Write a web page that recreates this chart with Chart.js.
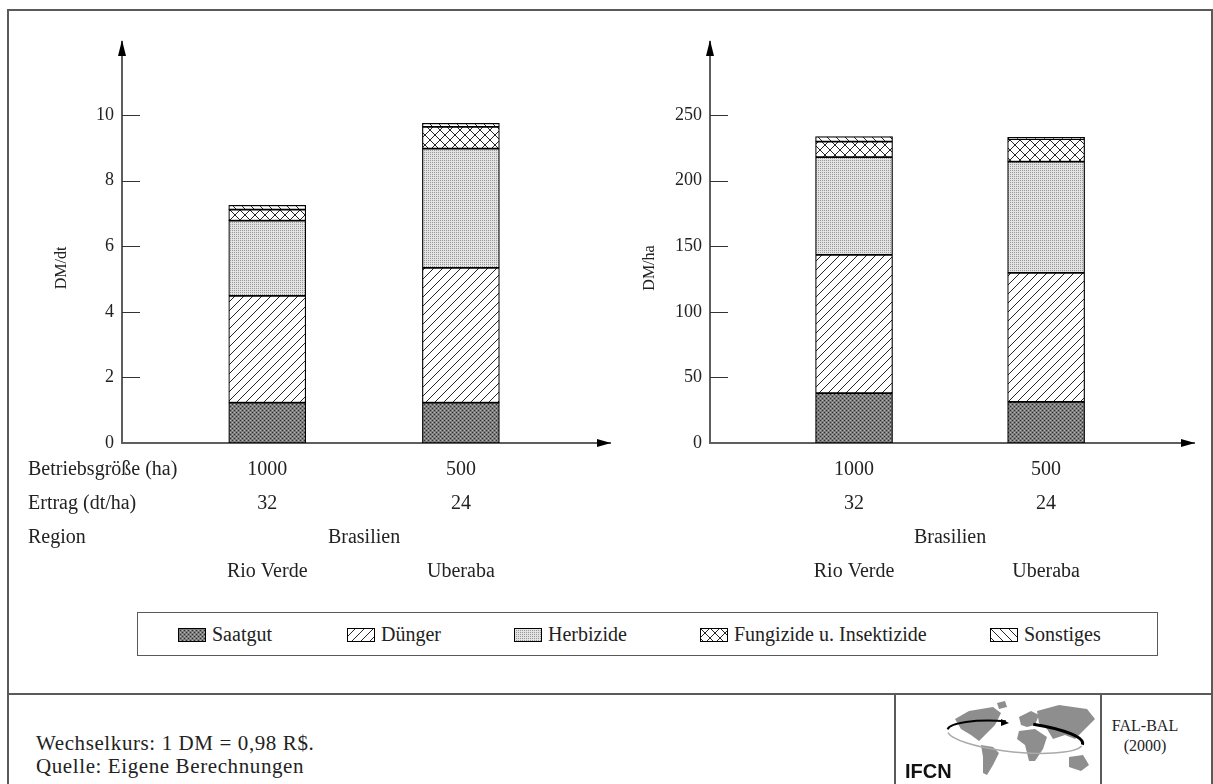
<!DOCTYPE html>
<html>
<head>
<meta charset="utf-8">
<script src="https://cdn.jsdelivr.net/npm/chart.js@4.4.1/dist/chart.umd.min.js"></script>
<style>
body { margin:0; width:1213px; height:784px; position:relative; background:#fff; overflow:hidden;
       font-family:"Liberation Serif","DejaVu Serif",serif; color:#222; }
.line { position:absolute; background:#5a5a5a; }
#links { position:absolute; left:0; top:0; }
#rechts { position:absolute; left:600px; top:0; }
#legende { position:absolute; left:137px; top:612px; width:1019px; height:42px; border:1.5px solid #5a5a5a; }
.eintrag { position:absolute; top:10px; font-size:20px; line-height:22px; white-space:nowrap; }
.eintrag canvas { vertical-align:-1px; margin-right:6px; }
.fuss { position:absolute; font-size:21px; line-height:23px; }
#logo { position:absolute; left:897px; top:695px; }
</style>
</head>
<body>
<div class="line" style="left:7px;top:9px;width:1206px;height:1.5px"></div>
<div class="line" style="left:7px;top:9px;width:1.5px;height:775px"></div>
<div class="line" style="left:1211px;top:9px;width:1.5px;height:775px"></div>
<div class="line" style="left:7px;top:693px;width:1206px;height:1.5px"></div>
<div class="line" style="left:894px;top:693px;width:1.5px;height:91px"></div>
<div class="line" style="left:1100px;top:693px;width:1.5px;height:91px"></div>

<canvas id="links" width="640" height="600"></canvas>
<canvas id="rechts" width="613" height="600"></canvas>
<div id="legende"></div>

<div class="fuss" style="left:36px;top:732px;letter-spacing:0.6px">Wechselkurs: 1 DM = 0,98 R$.<br>Quelle: Eigene Berechnungen</div>
<div class="fuss" style="left:1090px;top:716px;width:110px;text-align:center;font-size:16px;line-height:20px">FAL-BAL<br>(2000)</div>
<canvas id="logo" width="204" height="89"></canvas>

<script>
// Betriebe
const regionen = ['Rio Verde', 'Uberaba'];
const betriebsgroesse = ['1000', '500'];
const ertrag = ['32', '24'];
const land = 'Brasilien';
const zeilen = ['Betriebsgröße (ha)', 'Ertrag (dt/ha)', 'Region'];
const kategorien = ['Saatgut', 'Dünger', 'Herbizide', 'Fungizide u. Insektizide', 'Sonstiges'];

// Kosten in DM/dt
const saatgutDt   = [1.23, 1.23];
const duengerDt   = [3.26, 4.11];
const herbizideDt = [2.29, 3.64];
const fungizideDt = [0.34, 0.66];
const sonstigesDt = [0.13, 0.11];

// Kosten in DM/ha
const saatgutHa   = [38.1, 31.3];
const duengerHa   = [105.2, 98.3];
const herbizideHa = [74.5, 84.8];
const fungizideHa = [11.9, 17.1];
const sonstigesHa = [3.8, 1.5];

const ticksDt = [0, 2, 4, 6, 8, 10];
const ticksHa = [0, 50, 100, 150, 200, 250];

const SCHRIFT = '"Liberation Serif", "DejaVu Serif", serif';

// Schraffuren
function muster(art) {
    const c = document.createElement('canvas');
    const g = c.getContext('2d');
    if (art === 0) {
        c.width = c.height = 4;
        g.fillStyle = '#7c7c7c'; g.fillRect(0, 0, 4, 4);
        g.fillStyle = '#2e2e2e'; g.fillRect(0, 0, 1, 1); g.fillRect(2, 2, 1, 1);
        g.fillStyle = '#b4b4b4'; g.fillRect(2, 0, 1, 1); g.fillRect(0, 2, 1, 1);
    } else if (art === 2) {
        c.width = c.height = 2;
        g.fillStyle = '#e2e2e2'; g.fillRect(0, 0, 2, 2);
        g.fillStyle = '#9a9a9a'; g.fillRect(0, 0, 1, 1);
    } else {
        const n = art === 3 ? 10 : 9;
        c.width = c.height = n;
        g.fillStyle = '#fff'; g.fillRect(0, 0, n, n);
        g.strokeStyle = '#262626'; g.lineWidth = 1;
        const slash = () => { g.beginPath(); g.moveTo(-1, n + 1); g.lineTo(n + 1, -1); g.moveTo(-2, 2); g.lineTo(2, -2); g.moveTo(n - 2, n + 2); g.lineTo(n + 2, n - 2); g.stroke(); };
        const back = () => { g.beginPath(); g.moveTo(-1, -1); g.lineTo(n + 1, n + 1); g.moveTo(-2, n - 2); g.lineTo(2, n + 2); g.moveTo(n - 2, -2); g.lineTo(n + 2, 2); g.stroke(); };
        if (art === 1) slash();
        if (art === 3) { slash(); back(); }
        if (art === 4) back();
    }
    return g.createPattern(c, 'repeat');
}
const fuellungen = kategorien.map((k, i) => muster(i));

const deko = {
    id: 'deko',
    afterDraw(chart, args, opts) {
        const { ctx, chartArea: a, scales: { x, y } } = chart;
        ctx.save();
        // Teilstriche nach innen
        ctx.strokeStyle = '#333'; ctx.lineWidth = 1;
        y.ticks.forEach(t => {
            if (t.value === 0) return;
            const py = Math.round(y.getPixelForValue(t.value)) + 0.5;
            ctx.beginPath(); ctx.moveTo(a.left, py); ctx.lineTo(a.left + 18, py); ctx.stroke();
        });
        // Pfeile
        ctx.fillStyle = '#000';
        ctx.beginPath(); ctx.moveTo(a.left, a.top - 2); ctx.lineTo(a.left - 4, a.top + 14); ctx.lineTo(a.left + 4, a.top + 14); ctx.fill();
        ctx.beginPath(); ctx.moveTo(a.right + 1, a.bottom); ctx.lineTo(a.right - 13, a.bottom - 4); ctx.lineTo(a.right - 13, a.bottom + 4); ctx.fill();
        // Achsentitel
        ctx.fillStyle = '#222';
        ctx.font = '16px ' + SCHRIFT;
        ctx.save();
        ctx.translate(a.left - 60, 268); ctx.rotate(-Math.PI / 2);
        ctx.textAlign = 'center'; ctx.textBaseline = 'middle';
        ctx.fillText(opts.titel, 0, 0);
        ctx.restore();
        // Zeilen unter der Achse
        ctx.font = '20px ' + SCHRIFT;
        ctx.textBaseline = 'middle';
        const y0 = a.bottom + 27;
        ctx.textAlign = 'center';
        ctx.fillText(land, (x.getPixelForValue(1) + x.getPixelForValue(2)) / 2, y0 + 2 * 34);
        if (opts.zeilen) {
            ctx.textAlign = 'left';
            zeilen.forEach((z, i) => ctx.fillText(z, 28, y0 + i * 34));
        }
        ctx.restore();
    }
};

function diagramm(id, werte, yTicks, yMax, titel, pad, mitZeilen) {
    return new Chart(document.getElementById(id), {
        type: 'bar',
        data: {
            datasets: kategorien.map((k, i) => ({
                label: k,
                data: werte[i].map((v, j) => ({ x: j + 1, y: v })),
                backgroundColor: fuellungen[i],
                borderColor: '#000',
                borderWidth: 1.2,
                borderSkipped: false,
                barThickness: 77
            }))
        },
        options: {
            responsive: false,
            animation: false,
            layout: { padding: pad },
            plugins: {
                legend: { display: false },
                tooltip: { enabled: false },
                deko: { titel: titel, zeilen: mitZeilen }
            },
            scales: {
                x: {
                    type: 'linear', stacked: true, min: 0.25, max: 2.77,
                    offset: false, bounds: 'data',
                    grid: { display: false, drawTicks: false, offset: false },
                    border: { display: true, color: '#5e5e5e', width: 2 },
                    afterBuildTicks: s => { s.ticks = regionen.map((r, j) => ({ value: j + 1 })); },
                    afterFit: s => { s.height = 157; },
                    ticks: {
                        autoSkip: false, maxRotation: 0, padding: 10, color: '#222',
                        font: { family: SCHRIFT, size: 20, lineHeight: '34px' },
                        callback: (v, j) => [betriebsgroesse[j], ertrag[j], '', regionen[j]]
                    }
                },
                y: {
                    stacked: true, min: 0, max: yMax,
                    grid: { display: false, drawTicks: false },
                    border: { display: true, color: '#5e5e5e', width: 2 },
                    afterBuildTicks: s => { s.ticks = yTicks.map(v => ({ value: v })); },
                    afterFit: s => { s.width = 50; },
                    ticks: { padding: 8, color: '#222', font: { family: SCHRIFT, size: 18 } }
                }
            }
        },
        plugins: [deko]
    });
}

diagramm('links', [saatgutDt, duengerDt, herbizideDt, fungizideDt, sonstigesDt], ticksDt, 12.23, 'DM/dt',
    { left: 72, right: 30, top: 42, bottom: 0 }, true);
diagramm('rechts', [saatgutHa, duengerHa, herbizideHa, fungizideHa, sonstigesHa], ticksHa, 305.6, 'DM/ha',
    { left: 60, right: 19, top: 42, bottom: 0 }, false);

// Legende
const legendeX = [40, 209, 376, 562, 852];
const legende = document.getElementById('legende');
kategorien.forEach((k, i) => {
    const d = document.createElement('div');
    d.className = 'eintrag';
    d.style.left = legendeX[i] + 'px';
    const c = document.createElement('canvas');
    c.width = 28; c.height = 14;
    const g = c.getContext('2d');
    g.fillStyle = fuellungen[i]; g.fillRect(0, 0, 28, 14);
    g.strokeStyle = '#000'; g.lineWidth = 1; g.strokeRect(0.5, 0.5, 27, 13);
    d.appendChild(c);
    d.appendChild(document.createTextNode(k));
    legende.appendChild(d);
});

// IFCN-Logo
(function () {
    const g = document.getElementById('logo').getContext('2d');
    g.fillStyle = '#8e8e8e';
    const flaeche = pts => { g.beginPath(); g.moveTo(pts[0], pts[1]); for (let i = 2; i < pts.length; i += 2) g.lineTo(pts[i], pts[i + 1]); g.closePath(); g.fill(); };
    flaeche([58, 24, 72, 16, 96, 12, 104, 18, 98, 30, 88, 40, 82, 46, 74, 40, 64, 34]);
    flaeche([100, 8, 108, 6, 110, 12, 102, 14]);
    flaeche([84, 50, 96, 52, 102, 58, 96, 70, 90, 80, 86, 78, 86, 62]);
    flaeche([122, 22, 134, 16, 142, 20, 138, 30, 130, 32, 124, 30]);
    flaeche([122, 36, 138, 34, 150, 42, 146, 54, 138, 66, 132, 66, 128, 50, 120, 44]);
    flaeche([140, 16, 162, 10, 190, 14, 198, 24, 188, 34, 178, 44, 168, 40, 156, 44, 150, 34, 142, 28]);
    flaeche([172, 62, 186, 60, 192, 70, 184, 76, 172, 72]);
    g.strokeStyle = '#aaa'; g.lineWidth = 1.5;
    g.beginPath(); g.ellipse(118, 42, 68, 15, 0.1, 0.05 * Math.PI, 0.95 * Math.PI); g.stroke();
    g.strokeStyle = '#000'; g.lineWidth = 2;
    g.beginPath(); g.ellipse(118, 42, 68, 15, 0.1, 1.02 * Math.PI, 1.45 * Math.PI); g.stroke();
    g.lineWidth = 3;
    g.beginPath(); g.ellipse(118, 42, 68, 15, 0.1, 1.58 * Math.PI, 2.02 * Math.PI); g.stroke();
    g.fillStyle = '#000';
    g.beginPath(); g.moveTo(112, 28); g.lineTo(104, 24); g.lineTo(104, 31); g.fill();
    g.fillStyle = '#111';
    g.font = 'bold 20px "Liberation Sans", Arial, sans-serif';
    g.fillText('IFCN', 8, 83);
})();
</script>
</body>
</html>
